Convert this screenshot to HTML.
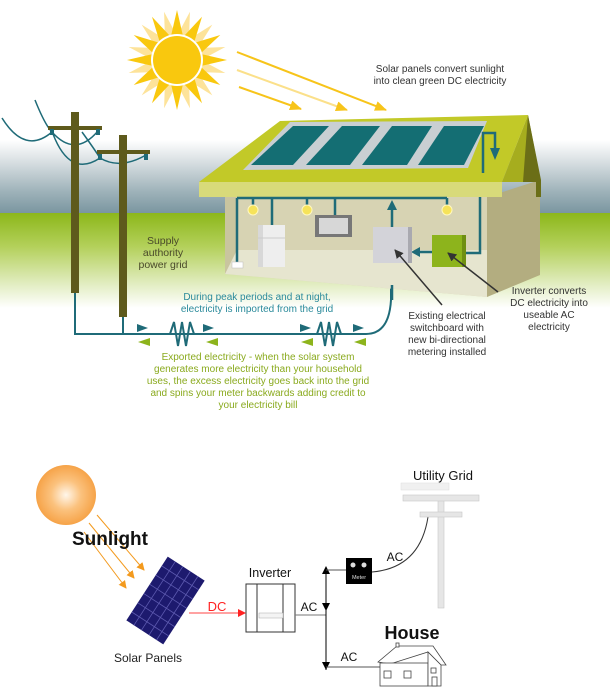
<!DOCTYPE html>
<html><head><meta charset="utf-8"><style>
html,body{margin:0;padding:0;background:#fff;}
svg{display:block;}
text{font-family:"Liberation Sans",sans-serif;}
</style></head><body>
<svg width="610" height="697" viewBox="0 0 610 697" xmlns="http://www.w3.org/2000/svg">
<defs>
<linearGradient id="sky" x1="0" y1="0" x2="0" y2="1">
<stop offset="0" stop-color="#ffffff"/>
<stop offset="0.3" stop-color="#d8dfe2"/>
<stop offset="0.7" stop-color="#9fb3ba"/>
<stop offset="1" stop-color="#7a96a0"/>
</linearGradient>
<linearGradient id="grass" x1="0" y1="0" x2="0" y2="1">
<stop offset="0" stop-color="#8cb71a"/>
<stop offset="0.35" stop-color="#b3d05a"/>
<stop offset="0.75" stop-color="#e2edc2"/>
<stop offset="1" stop-color="#ffffff"/>
</linearGradient>
<radialGradient id="osun" cx="0.5" cy="0.5" r="0.5">
<stop offset="0" stop-color="#fff6ea"/>
<stop offset="0.5" stop-color="#fbc27e"/>
<stop offset="1" stop-color="#f6a348"/>
</radialGradient>
<marker id="oa" markerWidth="8" markerHeight="8" refX="7" refY="4" orient="auto" markerUnits="userSpaceOnUse"><path d="M0,0 L8,4 L0,8z" fill="#f39a1e"/></marker>
<marker id="ya" markerWidth="12" markerHeight="10" refX="11" refY="5" orient="auto" markerUnits="userSpaceOnUse"><path d="M0,0 L12,5 L0,10z" fill="#f7c41a"/></marker>
<marker id="ra" markerWidth="8" markerHeight="8" refX="7" refY="4" orient="auto" markerUnits="userSpaceOnUse"><path d="M0,0 L8,4 L0,8z" fill="#f22"/></marker>
<marker id="ba" markerWidth="9" markerHeight="9" refX="8" refY="4.5" orient="auto" markerUnits="userSpaceOnUse"><path d="M0,0 L9,4.5 L0,9z" fill="#333"/></marker>
<marker id="ka" markerWidth="8" markerHeight="8" refX="7" refY="4" orient="auto" markerUnits="userSpaceOnUse"><path d="M0,0 L8,4 L0,8z" fill="#000"/></marker>
</defs>

<!-- background -->
<rect x="0" y="140" width="610" height="73" fill="url(#sky)"/>
<rect x="0" y="213" width="610" height="95" fill="url(#grass)"/>

<!-- sun -->
<g transform="translate(177,60)">
<g fill="#fde39a">
<polygon points="0,-50 6,-24 -6,-24" transform="rotate(15)"/><polygon points="0,-50 6,-24 -6,-24" transform="rotate(45)"/><polygon points="0,-50 6,-24 -6,-24" transform="rotate(75)"/><polygon points="0,-50 6,-24 -6,-24" transform="rotate(105)"/><polygon points="0,-50 6,-24 -6,-24" transform="rotate(135)"/><polygon points="0,-50 6,-24 -6,-24" transform="rotate(165)"/><polygon points="0,-50 6,-24 -6,-24" transform="rotate(195)"/><polygon points="0,-50 6,-24 -6,-24" transform="rotate(225)"/><polygon points="0,-50 6,-24 -6,-24" transform="rotate(255)"/><polygon points="0,-50 6,-24 -6,-24" transform="rotate(285)"/><polygon points="0,-50 6,-24 -6,-24" transform="rotate(315)"/><polygon points="0,-50 6,-24 -6,-24" transform="rotate(345)"/>
</g>
<g fill="#f9c80e">
<polygon points="0,-50 6,-24 -6,-24"/><polygon points="0,-50 6,-24 -6,-24" transform="rotate(30)"/><polygon points="0,-50 6,-24 -6,-24" transform="rotate(60)"/><polygon points="0,-50 6,-24 -6,-24" transform="rotate(90)"/><polygon points="0,-50 6,-24 -6,-24" transform="rotate(120)"/><polygon points="0,-50 6,-24 -6,-24" transform="rotate(150)"/><polygon points="0,-50 6,-24 -6,-24" transform="rotate(180)"/><polygon points="0,-50 6,-24 -6,-24" transform="rotate(210)"/><polygon points="0,-50 6,-24 -6,-24" transform="rotate(240)"/><polygon points="0,-50 6,-24 -6,-24" transform="rotate(270)"/><polygon points="0,-50 6,-24 -6,-24" transform="rotate(300)"/><polygon points="0,-50 6,-24 -6,-24" transform="rotate(330)"/>
</g>
<circle r="26" fill="#fff"/>
<circle r="24" fill="#f9c80e"/>
</g>
<line x1="237" y1="52" x2="386" y2="110" stroke="#f7c41a" stroke-width="2" marker-end="url(#ya)"/>
<line x1="237" y1="70" x2="347" y2="110" stroke="#fbe08a" stroke-width="2" marker-end="url(#ya)"/>
<line x1="239" y1="87" x2="301" y2="109" stroke="#f7c41a" stroke-width="2" marker-end="url(#ya)"/>

<text x="440" y="72" font-size="10" fill="#333" text-anchor="middle">Solar panels convert sunlight</text>
<text x="440" y="84" font-size="10" fill="#333" text-anchor="middle">into clean green DC electricity</text>

<!-- poles and wires -->
<g fill="none" stroke="#1f6b78" stroke-width="1.5">
<path d="M2,118 Q25,155 52,132"/>
<path d="M35,100 Q45,125 52,132"/>
<path d="M52,132 Q75,158 98,131"/>
<path d="M53,134 Q70,178 100,158"/>
<path d="M82,132 Q95,150 100,158"/>
<path d="M100,158 Q120,170 146,155"/>
<path d="M75,293 V334 H366 Q389,334 391,300 V285" stroke-width="2"/>
<path d="M123,317 V334" stroke-width="2"/>
<path d="M170,334 L174,322 L178,346 L182,322 L186,346 L190,322 L194,334" stroke-width="2"/>
<path d="M317,334 L321,322 L325,346 L329,322 L333,346 L337,322 L341,334" stroke-width="2"/>
</g>
<rect x="71" y="112" width="8" height="181" fill="#5e5a1c"/>
<rect x="48" y="126" width="54" height="4" fill="#5e5a1c"/>
<rect x="119" y="135" width="8" height="182" fill="#5e5a1c"/>
<rect x="97" y="150" width="53" height="4" fill="#5e5a1c"/>
<g fill="#1f6b78"><rect x="50" y="129" width="4" height="6"/><rect x="96" y="129" width="4" height="6"/><rect x="98" y="154" width="4" height="6"/><rect x="144" y="154" width="4" height="6"/></g>

<text x="163" y="244" font-size="10.5" fill="#4a4a2a" text-anchor="middle">Supply</text>
<text x="163" y="256" font-size="10.5" fill="#4a4a2a" text-anchor="middle">authority</text>
<text x="163" y="268" font-size="10.5" fill="#4a4a2a" text-anchor="middle">power grid</text>

<!-- flow arrows -->
<g fill="#1f6b78"><path d="M137,324 L148,328 L137,332z"/><path d="M203,324 L214,328 L203,332z"/><path d="M300,324 L311,328 L300,332z"/><path d="M353,324 L364,328 L353,332z"/></g>
<g fill="#8db41c"><path d="M150,338 L138,342 L150,346z"/><path d="M218,338 L206,342 L218,346z"/><path d="M313,338 L301,342 L313,346z"/><path d="M366,338 L354,342 L366,346z"/></g>
<path d="M379,283 L383,272 L387,283z" fill="#1f6b78"/>
<path d="M395,272 L403,272 L399,283z" fill="#8db41c"/>

<text x="257" y="300" font-size="10" fill="#2a8a9a" text-anchor="middle">During peak periods and at night,</text>
<text x="257" y="312" font-size="10" fill="#2a8a9a" text-anchor="middle">electricity is imported from the grid</text>
<g font-size="10" fill="#8aaa1e" text-anchor="middle">
<text x="258" y="360">Exported electricity - when the solar system</text>
<text x="258" y="372">generates more electricity than your household</text>
<text x="258" y="384">uses, the excess electricity goes back into the grid</text>
<text x="258" y="396">and spins your meter backwards adding credit to</text>
<text x="258" y="408">your electricity bill</text>
</g>

<!-- house -->
<polygon points="487,197 540,180 540,275 487,297" fill="#b3ad80"/>
<polygon points="225,197 487,197 487,297 225,274" fill="#d7d3b3"/>
<polygon points="225,250 487,250 487,297 225,274" fill="#e6e5cf"/>
<polygon points="225,197 237,197 237,250 225,274" fill="#c9c59f"/>
<polygon points="280,121 528,115 502,182 199,182" fill="#c2c928"/>
<polygon points="528,115 540,177 540,182 502,182" fill="#a6ad1e"/>
<polygon points="528,115 541,180 541,197 536,197 536,182 523,182" fill="#6b6e17"/>
<rect x="199" y="182" width="303" height="15" fill="#d8da7a"/>
<polygon points="243,170 290,122 487,121 468,168" fill="#c9cfd2"/>
<g fill="#146e73">
<polygon points="251,165 293,126 329,126 293,165"/>
<polygon points="306,165 342,126 380,126 350,165"/>
<polygon points="362,165 392,126 432,126 407,165"/>
<polygon points="418,165 444,126 484,126 464,165"/>
</g>
<!-- pipes -->
<g fill="none" stroke="#1f6b78" stroke-width="2.5">
<path d="M483,173 V133 H495 V150"/>
<path d="M237,198 H447"/>
<path d="M237,198 V262"/>
<path d="M272,198 V225"/>
<path d="M335,198 V215"/>
<path d="M253,198 V205 M307,198 V205 M447,198 V205"/>
<path d="M480,197 V253 H466"/>
<path d="M392,227 V208"/>
<path d="M432,252 H418"/>
<path d="M392,285 V300"/>
</g>
<path d="M490,148 L495,160 L500,148z" fill="#1f6b78"/>
<path d="M387,210 L392,200 L397,210z" fill="#1f6b78"/>
<path d="M420,247 L411,252 L420,257z" fill="#1f6b78"/>
<g fill="#f6e35a" stroke="#fff8c0" stroke-width="1"><circle cx="253" cy="210" r="5"/><circle cx="307" cy="210" r="5"/><circle cx="447" cy="210" r="5"/></g>
<rect x="232" y="262" width="11" height="6" fill="#fff" stroke="#bbb" stroke-width="0.5"/>
<rect x="258" y="225" width="27" height="42" fill="#eeeeee"/>
<rect x="258" y="225" width="5" height="42" fill="#d8d8d8"/>
<line x1="258" y1="238" x2="285" y2="238" stroke="#ccc"/>
<rect x="315" y="215" width="37" height="22" fill="#777"/>
<rect x="319" y="218" width="29" height="16" fill="#d7d7d7"/>
<rect x="373" y="227" width="39" height="36" fill="#d3d3d9"/>
<rect x="408" y="227" width="4" height="36" fill="#a9a9b0"/>
<rect x="432" y="235" width="34" height="32" fill="#8db41c"/>
<rect x="462" y="235" width="4" height="32" fill="#6f8f12"/>
<line x1="442" y1="305" x2="395" y2="250" stroke="#333" stroke-width="1.5" marker-end="url(#ba)"/>
<line x1="498" y1="292" x2="448" y2="253" stroke="#333" stroke-width="1.5" marker-end="url(#ba)"/>

<g font-size="10" fill="#333" text-anchor="middle">
<text x="447" y="319">Existing electrical</text>
<text x="447" y="331">switchboard with</text>
<text x="447" y="343">new bi-directional</text>
<text x="447" y="355">metering installed</text>
<text x="549" y="294">Inverter converts</text>
<text x="549" y="306">DC electricity into</text>
<text x="549" y="318">useable AC</text>
<text x="549" y="330">electricity</text>
</g>

<!-- bottom diagram -->
<circle cx="66" cy="495" r="30" fill="url(#osun)"/>
<line x1="97" y1="515" x2="144" y2="570" stroke="#f39a1e" stroke-width="1" marker-end="url(#oa)"/>
<line x1="89" y1="523" x2="134" y2="578" stroke="#f39a1e" stroke-width="1" marker-end="url(#oa)"/>
<line x1="84" y1="532" x2="126" y2="588" stroke="#f39a1e" stroke-width="1" marker-end="url(#oa)"/>
<text x="72" y="545" font-size="19" font-weight="bold" fill="#111">Sunlight</text>

<g transform="translate(165.5,600.5) rotate(33)">
<rect x="-22" y="-38" width="44" height="76" fill="#1d1a6e"/>
<g stroke="#5d5ab0" stroke-width="0.8">
<line x1="-13" y1="-38" x2="-13" y2="38"/><line x1="-4" y1="-38" x2="-4" y2="38"/><line x1="5" y1="-38" x2="5" y2="38"/><line x1="14" y1="-38" x2="14" y2="38"/>
<line x1="-22" y1="-27" x2="22" y2="-27"/><line x1="-22" y1="-16" x2="22" y2="-16"/><line x1="-22" y1="-5" x2="22" y2="-5"/><line x1="-22" y1="6" x2="22" y2="6"/><line x1="-22" y1="17" x2="22" y2="17"/><line x1="-22" y1="28" x2="22" y2="28"/>
</g>
</g>
<text x="148" y="662" font-size="12" fill="#222" text-anchor="middle">Solar Panels</text>

<line x1="189" y1="613" x2="245" y2="613" stroke="#f44" stroke-width="1" marker-end="url(#ra)"/>
<text x="217" y="611" font-size="13" fill="#f22" text-anchor="middle">DC</text>

<rect x="246" y="584" width="49" height="48" fill="#fff" stroke="#333" stroke-width="1"/>
<line x1="257" y1="584" x2="257" y2="632" stroke="#333"/>
<line x1="283" y1="584" x2="283" y2="632" stroke="#333"/>
<rect x="259" y="613" width="24" height="5" fill="#f4f4f4" stroke="#999" stroke-width="0.4"/>
<text x="270" y="577" font-size="12.5" fill="#111" text-anchor="middle">Inverter</text>

<line x1="295" y1="615" x2="326" y2="615" stroke="#777" stroke-width="1"/>
<text x="309" y="611" font-size="12" fill="#111" text-anchor="middle">AC</text>
<line x1="326" y1="567" x2="326" y2="670" stroke="#000" stroke-width="1"/>
<path d="M322,574 L326,566 L330,574z M322,662 L326,670 L330,662z M322,603 L326,611 L330,603z" fill="#000"/>
<line x1="326" y1="570" x2="346" y2="570" stroke="#555"/>
<line x1="326" y1="667" x2="380" y2="667" stroke="#555"/>
<text x="349" y="661" font-size="12" fill="#111" text-anchor="middle">AC</text>

<rect x="346" y="558" width="26" height="26" fill="#000"/>
<circle cx="353" cy="565" r="2.5" fill="#ddd"/><circle cx="364" cy="565" r="2.5" fill="#ddd"/>
<text x="359" y="579" font-size="5.5" fill="#ddd" text-anchor="middle">Meter</text>
<path d="M372,572 Q420,568 428,517" fill="none" stroke="#333" stroke-width="1"/>
<text x="395" y="561" font-size="12" fill="#111" text-anchor="middle">AC</text>

<rect x="438" y="497" width="6" height="111" fill="#e6e6e6" stroke="#c8c8c8" stroke-width="0.6"/>
<rect x="403" y="495" width="76" height="6" fill="#e6e6e6" stroke="#c8c8c8" stroke-width="0.6"/>
<rect x="420" y="512" width="42" height="5" fill="#e6e6e6" stroke="#c8c8c8" stroke-width="0.6"/>
<rect x="401" y="483" width="48" height="7" fill="#f0f0f0" stroke="#ddd" stroke-width="0.5"/>
<text x="443" y="480" font-size="13" fill="#111" text-anchor="middle">Utility Grid</text>

<text x="412" y="639" font-size="18" font-weight="bold" fill="#111" text-anchor="middle">House</text>
<g fill="#fff" stroke="#444" stroke-width="0.8">
<polygon points="378,662 397,646 433,646 446,665 441,665 428,652 390,664"/>
<rect x="380" y="663" width="48" height="23"/>
<polygon points="428,652 441,665 441,686 428,686"/>
<rect x="384" y="671" width="7" height="7"/><rect x="404" y="671" width="7" height="7"/>
<rect x="431" y="668" width="5" height="5"/><rect x="432" y="677" width="5" height="9"/>
<rect x="396" y="643" width="3" height="4"/>
</g>
</svg>
</body></html>
